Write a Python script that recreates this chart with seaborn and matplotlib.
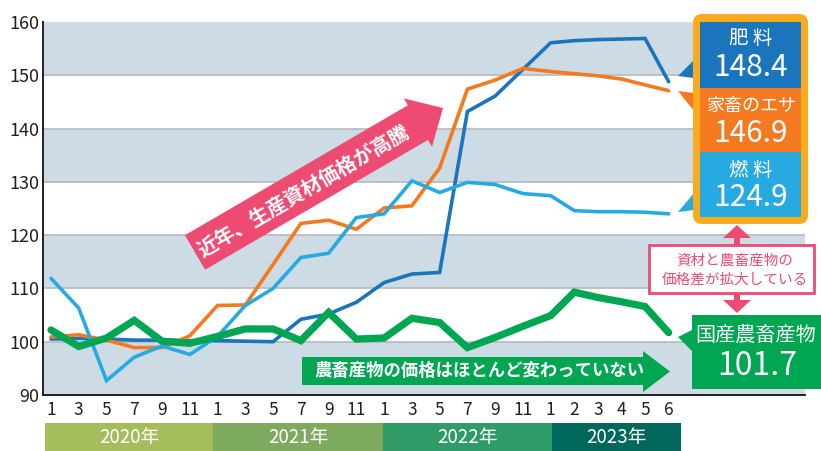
import numpy as np
import pandas as pd
import matplotlib
matplotlib.use("Agg")
import matplotlib.pyplot as plt
import seaborn as sns
from matplotlib.patches import Polygon, Rectangle, FancyBboxPatch
from matplotlib.transforms import Affine2D

# ---------------- data ----------------
month_labels = ["1", "3", "5", "7", "9", "11"] * 3 + ["1", "2", "3", "4", "5", "6"]
years = ["2020年", "2021年", "2022年", "2023年"]
year_colors = ["#a6bd5e", "#7eaa60", "#2f9b66", "#00685a"]

fertilizer = [100.5, 100.6, 100.5, 100.3, 100.3, 100.2, 100.2, 100.1, 100.0, 104.2, 105.2, 107.4,
              111.1, 112.7, 113.0, 143.2, 146.1, 151.1, 156.1, 156.5, 156.7, 156.8, 156.9, 148.8]
feed = [100.9, 101.3, 100.3, 98.9, 98.9, 101.1, 106.8, 106.9, 114.5, 122.2, 122.8, 121.1,
        125.1, 125.5, 132.6, 147.4, 149.1, 151.3, 150.7, 150.3, 149.9, 149.3, 148.2, 147.1]
fuel = [111.9, 106.3, 92.7, 97.1, 99.2, 97.6, 101.0, 106.8, 110.0, 115.8, 116.6, 123.3,
        124.0, 130.2, 128.0, 129.9, 129.5, 127.8, 127.4, 124.6, 124.4, 124.4, 124.3, 124.0]
agri = [102.2, 99.1, 100.7, 104.0, 100.1, 99.7, 101.0, 102.4, 102.4, 100.2, 105.5, 100.5,
        100.7, 104.4, 103.6, 98.9, 100.8, 102.9, 104.9, 109.3, 108.3, 107.5, 106.6, 101.7]

series_names = ["肥料", "家畜のエサ", "燃料", "国産農畜産物"]
callout_names = ["肥 料", "家畜のエサ", "燃 料", "国産農畜産物"]
series_values = [fertilizer, feed, fuel, agri]
series_colors = ["#1b75bc", "#f47920", "#27aae1", "#00a651"]
series_widths = [2.6, 2.6, 2.6, 5.2]
callout_values = ["148.4", "146.9", "124.9", "101.7"]

# ---------------- figure ----------------
sns.set_style("white")
plt.rcParams['font.family'] = ['Noto Sans CJK JP', 'DejaVu Sans']

W, H = 821, 451
fig = plt.figure(figsize=(W / 100, H / 100), dpi=100)
px = Affine2D().scale(1 / W, -1 / H).translate(0, 1) + fig.transFigure

ax = fig.add_axes([43 / W, 1 - 395 / H, (805 - 43) / W, (395 - 22) / H])

idx = np.arange(len(month_labels))
pos = np.where(idx < 18, idx, 18 + 0.85 * (idx - 18))

df = pd.DataFrame({
    "pos": np.tile(pos, len(series_names)),
    "value": np.concatenate(series_values),
    "series": np.repeat(series_names, len(pos)),
})

for name, color, lw, z in zip(series_names, series_colors, series_widths, [3, 4, 5, 6]):
    sub = df[df["series"] == name]
    sns.lineplot(data=sub, x="pos", y="value", ax=ax, color=color, linewidth=lw,
                 solid_capstyle="round", solid_joinstyle="miter", zorder=z)

ax.set_xlim(-8 / 27.76, (805 - 51) / 27.76)
ax.set_ylim(90, 160)
band = "#cddce4"
for lo in (90, 110, 130, 150):
    ax.axhspan(lo, lo + 10, color=band, lw=0, zorder=0)
for g in range(100, 160, 10):
    ax.axhline(g, color="#b9bcc1", lw=1.3, zorder=1)

ax.set_xticks(pos)
ax.set_xticklabels(month_labels)
ax.set_yticks(range(90, 161, 10))
ax.tick_params(axis="both", length=0, labelsize=12.5, colors="#231f20")
ax.tick_params(axis="x", pad=4)
ax.tick_params(axis="y", pad=2.5, labelsize=13)
ax.set_xlabel("")
ax.set_ylabel("")
for s in ("top", "right"):
    ax.spines[s].set_visible(False)
for s in ("left", "bottom"):
    ax.spines[s].set_color("#231f20")
    ax.spines[s].set_linewidth(1.4)

# year bands
ax2 = fig.add_axes([43 / W, 0, (805 - 43) / W, 28 / H])
ax2.set_xlim(ax.get_xlim())
ax2.set_ylim(0, 1)
ax2.axis("off")
edges = [pos[0] - 0.2, pos[6] - 0.15, pos[12] - 0.05, pos[18] + 0.05, pos[23] + 0.45]
for i, (yl, c) in enumerate(zip(years, year_colors)):
    ax2.axvspan(edges[i], edges[i + 1], color=c, lw=0)
    ax2.text((edges[i] + edges[i + 1]) / 2, 0.5, yl, ha="center", va="center",
             color="white", fontsize=13.5)

# ---------------- annotations (image pixel coordinates) ----------------
def poly(points, color, z=10):
    fig.add_artist(Polygon(points, closed=True, fc=color, ec="none", transform=px, zorder=z))

def rect(x, y, w, h, fc, ec="none", lw=0, z=10):
    fig.add_artist(Rectangle((x, y), w, h, fc=fc, ec=ec, lw=lw, transform=px, zorder=z))

def txt(x, y, s, size, color="white", weight="normal", rot=0, z=20):
    fig.text(x, y, s, transform=px, ha="center", va="center", fontsize=size,
             color=color, fontweight=weight, rotation=rot, rotation_mode="anchor", zorder=z)

pink = "#ee4b73"
# rising pink arrow
T = np.array([195.0, 252.5])
Hd = np.array([443.0, 108.0])
L = np.linalg.norm(Hd - T)
d = (Hd - T) / L
n = np.array([-d[1], d[0]])
if n[1] < 0:
    n = -n
neck = T + (L - 29) * d
pts = [T - 20 * n, neck - 20 * n, neck - 28 * n, Hd, neck + 28 * n, neck + 20 * n, T + 20 * n]
poly([tuple(p) for p in pts], pink)
ang = np.degrees(np.arctan2(-d[1], d[0]))
c = T + 125 * d
txt(c[0], c[1] + 1, "近年、生産資材価格が高騰", 14.5, weight="bold", rot=ang)

# flat green arrow
green = "#00a651"
rect(302, 357, 341, 28, green)
poly([(643, 351), (670, 371.5), (643, 392)], green)
txt(479, 371, "農畜産物の価格はほとんど変わっていない", 12.5, weight="bold")

# callout box for materials
orange_border = "#f8ab1c"
poly([(678, 76), (694, 60), (694, 78)], series_colors[0], z=9)
poly([(678, 91), (694, 93), (694, 111)], series_colors[1], z=9)
poly([(678, 212), (694, 193), (694, 210)], series_colors[2], z=9)
fig.add_artist(FancyBboxPatch((693, 14), 115, 210, boxstyle="round,pad=0,rounding_size=9",
                              fc=orange_border, ec="none", transform=px, zorder=10))
rect(700, 22, 101, 66, series_colors[0], z=11)
rect(700, 88, 101, 64, series_colors[1], z=11)
rect(700, 152, 101, 65, series_colors[2], z=11)
txt(751, 39, callout_names[0], 14)
txt(751, 68, callout_values[0], 21.5)
txt(751, 106, callout_names[1], 13)
txt(751, 133, callout_values[1], 21.5)
txt(751, 170, callout_names[2], 14)
txt(751, 198, callout_values[2], 21.5)

# double pink arrow
rect(734, 234, 6, 70, pink, z=9)
poly([(723, 238), (737, 225), (751, 238)], pink, z=9)
poly([(723, 300), (737, 313), (751, 300)], pink, z=9)
rect(649, 245, 165, 48, "white", ec=pink, lw=2, z=12)
txt(735, 261, "資材と農畜産物の", 10.5, color=pink)
txt(735, 280, "価格差が拡大している", 10.5, color=pink)

# green callout
poly([(678, 337), (694, 329), (694, 353)], green, z=9)
rect(692, 315, 129, 74, green, z=11)
txt(756, 335, callout_names[3], 14.5)
txt(757, 366, callout_values[3], 23)

fig.savefig("out.png", dpi=100)
